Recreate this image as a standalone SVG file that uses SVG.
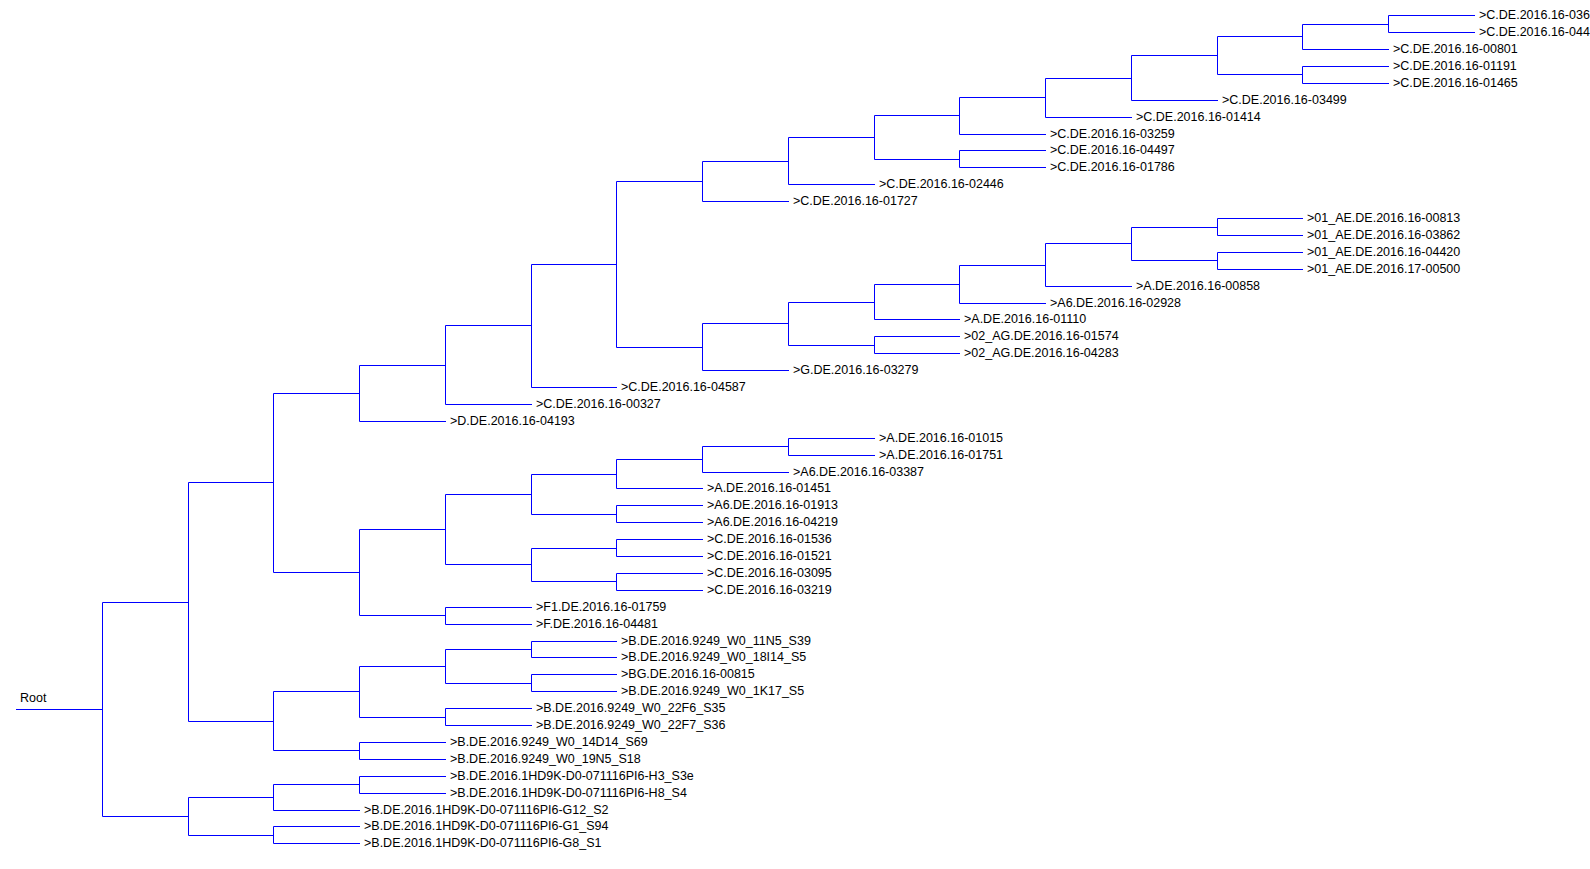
<svg xmlns="http://www.w3.org/2000/svg" width="1590" height="869" viewBox="0 0 1590 869">
<style>
  .branch { fill: none; stroke: #0000ff; stroke-width: 1; stroke-linecap: square; }
  .lbl { font-family: "Liberation Sans", Arial, sans-serif; font-size: 12.5px; fill: #000000; }
</style>
<rect x="0" y="0" width="1590" height="869" fill="#ffffff"/>

<!-- tree branches: each internal node is one bracket (child - parent vertical - child) -->
<g id="connectors" class="branch">
  <path d="M16.5 709.5 H102.5"/>
  <path d="M188.5 602.5 H102.5 V816.5 H188.5"/>
  <path d="M273.5 482.5 H188.5 V721.5 H273.5"/>
  <path d="M273.5 797.5 H188.5 V835.5 H273.5"/>
  <path d="M359.5 784.5 H273.5 V810.5 H359.5"/>
  <path d="M445.5 776.5 H359.5 V793.5 H445.5"/>
  <path d="M359.5 826.5 H273.5 V843.5 H359.5"/>
  <path d="M359.5 393.5 H273.5 V572.5 H359.5"/>
  <path d="M359.5 691.5 H273.5 V750.5 H359.5"/>
  <path d="M445.5 666.5 H359.5 V717.5 H445.5"/>
  <path d="M445.5 742.5 H359.5 V759.5 H445.5"/>
  <path d="M531.5 649.5 H445.5 V683.5 H531.5"/>
  <path d="M531.5 708.5 H445.5 V725.5 H531.5"/>
  <path d="M616.5 641.5 H531.5 V657.5 H616.5"/>
  <path d="M616.5 674.5 H531.5 V691.5 H616.5"/>
  <path d="M445.5 365.5 H359.5 V421.5 H445.5"/>
  <path d="M531.5 325.5 H445.5 V404.5 H531.5"/>
  <path d="M616.5 264.5 H531.5 V387.5 H616.5"/>
  <path d="M702.5 181.5 H616.5 V347.5 H702.5"/>
  <path d="M788.5 161.5 H702.5 V201.5 H788.5"/>
  <path d="M874.5 137.5 H788.5 V184.5 H874.5"/>
  <path d="M959.5 115.5 H874.5 V159.5 H959.5"/>
  <path d="M1045.5 150.5 H959.5 V167.5 H1045.5"/>
  <path d="M1045.5 97.5 H959.5 V134.5 H1045.5"/>
  <path d="M1131.5 78.5 H1045.5 V117.5 H1131.5"/>
  <path d="M1217.5 55.5 H1131.5 V100.5 H1217.5"/>
  <path d="M1302.5 36.5 H1217.5 V74.5 H1302.5"/>
  <path d="M1388.5 66.5 H1302.5 V83.5 H1388.5"/>
  <path d="M1388.5 24.5 H1302.5 V49.5 H1388.5"/>
  <path d="M1474.5 15.5 H1388.5 V32.5 H1474.5"/>
  <path d="M788.5 323.5 H702.5 V370.5 H788.5"/>
  <path d="M874.5 302.5 H788.5 V345.5 H874.5"/>
  <path d="M959.5 336.5 H874.5 V353.5 H959.5"/>
  <path d="M959.5 284.5 H874.5 V319.5 H959.5"/>
  <path d="M1045.5 265.5 H959.5 V303.5 H1045.5"/>
  <path d="M1131.5 243.5 H1045.5 V286.5 H1131.5"/>
  <path d="M1217.5 227.5 H1131.5 V260.5 H1217.5"/>
  <path d="M1302.5 218.5 H1217.5 V235.5 H1302.5"/>
  <path d="M1302.5 252.5 H1217.5 V269.5 H1302.5"/>
  <path d="M445.5 529.5 H359.5 V615.5 H445.5"/>
  <path d="M531.5 607.5 H445.5 V624.5 H531.5"/>
  <path d="M531.5 494.5 H445.5 V564.5 H531.5"/>
  <path d="M616.5 548.5 H531.5 V581.5 H616.5"/>
  <path d="M702.5 539.5 H616.5 V556.5 H702.5"/>
  <path d="M702.5 573.5 H616.5 V590.5 H702.5"/>
  <path d="M616.5 474.5 H531.5 V514.5 H616.5"/>
  <path d="M702.5 505.5 H616.5 V522.5 H702.5"/>
  <path d="M702.5 459.5 H616.5 V488.5 H702.5"/>
  <path d="M788.5 446.5 H702.5 V472.5 H788.5"/>
  <path d="M874.5 438.5 H788.5 V455.5 H874.5"/>
</g>

<!-- root and leaf labels -->
<g id="root"><text class="lbl" x="20" y="702">Root</text></g>
<g id="leaf-01"><text class="lbl" x="1479" y="19">&gt;C.DE.2016.16-036</text></g>
<g id="leaf-02"><text class="lbl" x="1479" y="36">&gt;C.DE.2016.16-044</text></g>
<g id="leaf-03"><text class="lbl" x="1393" y="53">&gt;C.DE.2016.16-00801</text></g>
<g id="leaf-04"><text class="lbl" x="1393" y="70">&gt;C.DE.2016.16-01191</text></g>
<g id="leaf-05"><text class="lbl" x="1393" y="87">&gt;C.DE.2016.16-01465</text></g>
<g id="leaf-06"><text class="lbl" x="1222" y="104">&gt;C.DE.2016.16-03499</text></g>
<g id="leaf-07"><text class="lbl" x="1136" y="121">&gt;C.DE.2016.16-01414</text></g>
<g id="leaf-08"><text class="lbl" x="1050" y="138">&gt;C.DE.2016.16-03259</text></g>
<g id="leaf-09"><text class="lbl" x="1050" y="154">&gt;C.DE.2016.16-04497</text></g>
<g id="leaf-10"><text class="lbl" x="1050" y="171">&gt;C.DE.2016.16-01786</text></g>
<g id="leaf-11"><text class="lbl" x="879" y="188">&gt;C.DE.2016.16-02446</text></g>
<g id="leaf-12"><text class="lbl" x="793" y="205">&gt;C.DE.2016.16-01727</text></g>
<g id="leaf-13"><text class="lbl" x="1307" y="222">&gt;01_AE.DE.2016.16-00813</text></g>
<g id="leaf-14"><text class="lbl" x="1307" y="239">&gt;01_AE.DE.2016.16-03862</text></g>
<g id="leaf-15"><text class="lbl" x="1307" y="256">&gt;01_AE.DE.2016.16-04420</text></g>
<g id="leaf-16"><text class="lbl" x="1307" y="273">&gt;01_AE.DE.2016.17-00500</text></g>
<g id="leaf-17"><text class="lbl" x="1136" y="290">&gt;A.DE.2016.16-00858</text></g>
<g id="leaf-18"><text class="lbl" x="1050" y="307">&gt;A6.DE.2016.16-02928</text></g>
<g id="leaf-19"><text class="lbl" x="964" y="323">&gt;A.DE.2016.16-01110</text></g>
<g id="leaf-20"><text class="lbl" x="964" y="340">&gt;02_AG.DE.2016.16-01574</text></g>
<g id="leaf-21"><text class="lbl" x="964" y="357">&gt;02_AG.DE.2016.16-04283</text></g>
<g id="leaf-22"><text class="lbl" x="793" y="374">&gt;G.DE.2016.16-03279</text></g>
<g id="leaf-23"><text class="lbl" x="621" y="391">&gt;C.DE.2016.16-04587</text></g>
<g id="leaf-24"><text class="lbl" x="536" y="408">&gt;C.DE.2016.16-00327</text></g>
<g id="leaf-25"><text class="lbl" x="450" y="425">&gt;D.DE.2016.16-04193</text></g>
<g id="leaf-26"><text class="lbl" x="879" y="442">&gt;A.DE.2016.16-01015</text></g>
<g id="leaf-27"><text class="lbl" x="879" y="459">&gt;A.DE.2016.16-01751</text></g>
<g id="leaf-28"><text class="lbl" x="793" y="476">&gt;A6.DE.2016.16-03387</text></g>
<g id="leaf-29"><text class="lbl" x="707" y="492">&gt;A.DE.2016.16-01451</text></g>
<g id="leaf-30"><text class="lbl" x="707" y="509">&gt;A6.DE.2016.16-01913</text></g>
<g id="leaf-31"><text class="lbl" x="707" y="526">&gt;A6.DE.2016.16-04219</text></g>
<g id="leaf-32"><text class="lbl" x="707" y="543">&gt;C.DE.2016.16-01536</text></g>
<g id="leaf-33"><text class="lbl" x="707" y="560">&gt;C.DE.2016.16-01521</text></g>
<g id="leaf-34"><text class="lbl" x="707" y="577">&gt;C.DE.2016.16-03095</text></g>
<g id="leaf-35"><text class="lbl" x="707" y="594">&gt;C.DE.2016.16-03219</text></g>
<g id="leaf-36"><text class="lbl" x="536" y="611">&gt;F1.DE.2016.16-01759</text></g>
<g id="leaf-37"><text class="lbl" x="536" y="628">&gt;F.DE.2016.16-04481</text></g>
<g id="leaf-38"><text class="lbl" x="621" y="645">&gt;B.DE.2016.9249_W0_11N5_S39</text></g>
<g id="leaf-39"><text class="lbl" x="621" y="661">&gt;B.DE.2016.9249_W0_18I14_S5</text></g>
<g id="leaf-40"><text class="lbl" x="621" y="678">&gt;BG.DE.2016.16-00815</text></g>
<g id="leaf-41"><text class="lbl" x="621" y="695">&gt;B.DE.2016.9249_W0_1K17_S5</text></g>
<g id="leaf-42"><text class="lbl" x="536" y="712">&gt;B.DE.2016.9249_W0_22F6_S35</text></g>
<g id="leaf-43"><text class="lbl" x="536" y="729">&gt;B.DE.2016.9249_W0_22F7_S36</text></g>
<g id="leaf-44"><text class="lbl" x="450" y="746">&gt;B.DE.2016.9249_W0_14D14_S69</text></g>
<g id="leaf-45"><text class="lbl" x="450" y="763">&gt;B.DE.2016.9249_W0_19N5_S18</text></g>
<g id="leaf-46"><text class="lbl" x="450" y="780">&gt;B.DE.2016.1HD9K-D0-071116PI6-H3_S3e</text></g>
<g id="leaf-47"><text class="lbl" x="450" y="797">&gt;B.DE.2016.1HD9K-D0-071116PI6-H8_S4</text></g>
<g id="leaf-48"><text class="lbl" x="364" y="814">&gt;B.DE.2016.1HD9K-D0-071116PI6-G12_S2</text></g>
<g id="leaf-49"><text class="lbl" x="364" y="830">&gt;B.DE.2016.1HD9K-D0-071116PI6-G1_S94</text></g>
<g id="leaf-50"><text class="lbl" x="364" y="847">&gt;B.DE.2016.1HD9K-D0-071116PI6-G8_S1</text></g>
</svg>
